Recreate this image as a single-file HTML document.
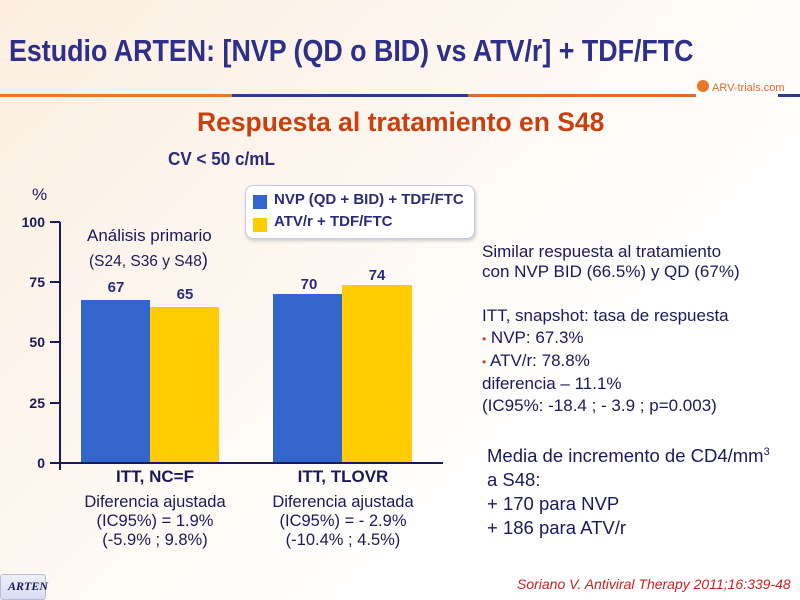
<!DOCTYPE html>
<html><head><meta charset="utf-8"><style>
body{margin:0;width:800px;height:600px;overflow:hidden;position:relative;font-family:"Liberation Sans",sans-serif;
background:linear-gradient(135deg,#fbeee0 0%,#fdf6ee 35%,#ffffff 70%);}
.a{position:absolute;white-space:nowrap;}
.t{color:#1a1a5a;}
</style></head><body>
<div class="a" style="left:9px;top:33px;font-size:31px;font-weight:bold;color:#2e2f8a;transform:scaleX(0.865);transform-origin:0 0;">Estudio ARTEN: [NVP (QD o BID) vs ATV/r] + TDF/FTC</div>
<div class="a" style="left:0;top:94px;width:232px;height:3px;background:#e8782a"></div>
<div class="a" style="left:232px;top:94px;width:236px;height:3px;background:#2e3a8a"></div>
<div class="a" style="left:468px;top:94px;width:228px;height:3px;background:#e06a2a"></div>
<div class="a" style="left:778px;top:94px;width:22px;height:3px;background:#2e3a8a"></div>
<div class="a" style="left:697px;top:80px;width:12px;height:12px;border-radius:6px;background:#e8782a"></div>
<div class="a" style="left:712px;top:82px;font-size:11px;color:#e06a2a;">ARV-trials.com</div>
<div class="a" style="left:197px;top:107px;font-size:27px;font-weight:bold;color:#c8400f;transform:scaleX(0.98);transform-origin:0 0;">Respuesta al tratamiento en S48</div>
<div class="a" style="left:168px;top:149px;font-size:18px;font-weight:bold;color:#2b2b7b;transform:scaleX(0.95);transform-origin:0 0;">CV &lt; 50 c/mL</div>
<div class="a" style="left:245px;top:185px;width:228px;height:52px;border:1px solid #c8c8e0;border-radius:8px;background:#fff;box-shadow:1px 2px 3px #ccc;"></div>
<div class="a" style="left:253px;top:195px;width:14px;height:14px;background:#3366cc"></div>
<div class="a" style="left:253px;top:218px;width:14px;height:14px;background:#ffcc00"></div>
<div class="a" style="left:274px;top:191px;font-size:15px;font-weight:bold;color:#2b2b7b;">NVP (QD + BID) + TDF/FTC</div>
<div class="a" style="left:274px;top:213px;font-size:15px;font-weight:bold;color:#2b2b7b;">ATV/r + TDF/FTC</div>
<svg class="a" style="left:0;top:0" width="800" height="600">
<g stroke="#1a1a5a" stroke-width="2">
<line x1="60" y1="222" x2="60" y2="470"/>
<line x1="50" y1="463" x2="443" y2="463"/>
<line x1="50" y1="222" x2="60" y2="222"/><line x1="50" y1="282" x2="60" y2="282"/>
<line x1="50" y1="342" x2="60" y2="342"/><line x1="50" y1="403" x2="60" y2="403"/>
</g>
<rect x="81" y="300" width="69" height="162" fill="#3366cc"/>
<rect x="150" y="307" width="69" height="155" fill="#ffcc00"/>
<rect x="273" y="294" width="69" height="168" fill="#3366cc"/>
<rect x="342" y="285" width="70" height="177" fill="#ffcc00"/>
<g font-family="Liberation Sans" font-weight="bold" font-size="14" fill="#1a1a5a" text-anchor="end">
<text x="45" y="227">100</text><text x="45" y="287">75</text><text x="45" y="347">50</text><text x="45" y="408">25</text><text x="45" y="468">0</text>
</g>
<g font-family="Liberation Sans" font-weight="bold" font-size="15" fill="#2b2b7b" text-anchor="middle">
<text x="116" y="292">67</text><text x="185" y="299">65</text><text x="309" y="289">70</text><text x="377" y="280">74</text>
</g>
<text x="32" y="200" font-family="Liberation Sans" font-size="17" fill="#1a1a5a">%</text>
</svg>
<div class="a t" style="left:87px;top:226px;font-size:17px;">Análisis primario</div>
<div class="a t" style="left:89px;top:250px;font-size:15.5px;">(S24, S36 y S48<span style="font-size:18px">)</span></div>
<div class="a t" style="left:55px;top:467px;width:200px;text-align:center;font-size:17px;font-weight:bold;">ITT, NC=F</div>
<div class="a t" style="left:40px;top:493px;width:230px;text-align:center;font-size:16.5px;line-height:19px;">Diferencia ajustada<br>(IC95%) = 1.9%<br>(-5.9% ; 9.8%)</div>
<div class="a t" style="left:243px;top:467px;width:200px;text-align:center;font-size:17px;font-weight:bold;">ITT, TLOVR</div>
<div class="a t" style="left:228px;top:493px;width:230px;text-align:center;font-size:16.5px;line-height:19px;">Diferencia ajustada<br>(IC95%) = - 2.9%<br>(-10.4% ; 4.5%)</div>
<div class="a t" style="left:482px;top:242px;font-size:17px;line-height:20px;">Similar respuesta al tratamiento<br>con NVP BID (66.5%) y QD (67%)</div>
<div class="a t" style="left:482px;top:305px;font-size:17px;line-height:22px;">ITT, snapshot: tasa de respuesta<br><span style="color:#d04020;font-size:12px">•</span> NVP: 67.3%<br><span style="color:#d04020;font-size:12px">•</span> ATV/r: 78.8%<br>diferencia – 11.1%<br>(IC95%: -18.4 ; - 3.9 ; p=0.003)</div>
<div class="a t" style="left:487px;top:440px;font-size:18.5px;line-height:24px;">Media de incremento de CD4/mm<sup style="font-size:11px">3</sup><br>a S48:<br>+ 170 para NVP<br>+ 186 para ATV/r</div>
<div class="a" style="left:0;top:574px;width:44px;height:24px;border:1px solid #b8bcd8;border-radius:3px;background:linear-gradient(#eef0fa,#d8dcf0);"></div>
<div class="a" style="left:8px;top:579px;font-family:'Liberation Serif',serif;font-style:italic;font-weight:bold;font-size:12px;color:#1a1a5a;">ARTEN</div>
<div class="a" style="left:517px;top:576px;font-size:14px;font-style:italic;color:#cc2020;">Soriano V. Antiviral Therapy 2011;16:339-48</div>
</body></html>
